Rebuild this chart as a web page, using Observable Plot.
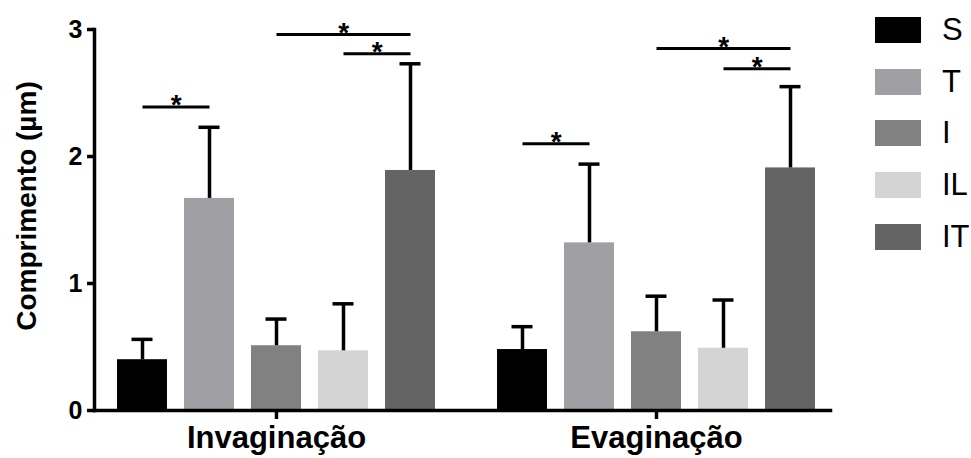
<!DOCTYPE html>
<html>
<head>
<meta charset="utf-8">
<script src="https://cdn.jsdelivr.net/npm/d3@7"></script>
<script src="https://cdn.jsdelivr.net/npm/@observablehq/plot@0.6"></script>
<style>
  body { margin: 0; background: #fff; }
  #chart { position: relative; width: 971px; height: 458px; font-family: "Liberation Sans", Arial, sans-serif; }
  #legend { position: absolute; left: 875px; top: 17px; }
  .item { display: flex; align-items: center; height: 26px; margin-bottom: 25.7px; }
  .swatch { width: 46px; height: 26px; margin-right: 21px; flex: none; }
  .item span { font-size: 31px; line-height: 26px; color: #000; }
  svg g[aria-label="y-axis tick label"] text { font-size: 25px !important; font-weight: bold !important; }
</style>
</head>
<body>
<div id="chart"><div id="legend"></div></div>
<script>
// Groups, series and colours
const groups = ["Invaginação", "Evaginação"];
const series = ["S", "T", "I", "IL", "IT"];
const colors = ["#000000", "#a0a0a4", "#818181", "#d4d4d4", "#646464"];

// Mean length (µm) and SD per series, one list per group
const invagMean = [0.40, 1.67, 0.51, 0.47, 1.89];
const invagSD   = [0.16, 0.56, 0.21, 0.37, 0.84];
const evagMean  = [0.48, 1.32, 0.62, 0.49, 1.91];
const evagSD    = [0.18, 0.62, 0.28, 0.38, 0.64];

const yTicks = [0, 1, 2, 3];
const yTitle = "Comprimento (µm)";

// Significant comparisons: group, bar pair, bracket height, mark
const sigGroup = ["Invaginação", "Invaginação", "Invaginação", "Evaginação", "Evaginação", "Evaginação"];
const sigFrom  = ["S", "I", "IL", "S", "I", "IL"];
const sigTo    = ["T", "IT", "IT", "T", "IT", "IT"];
const sigLevel = [2.39, 2.96, 2.81, 2.10, 2.85, 2.69];
const sigLabel = ["*", "*", "*", "*", "*", "*"];

const rows = [];
[[groups[0], invagMean, invagSD], [groups[1], evagMean, evagSD]].forEach(([g, m, sd]) => {
  series.forEach((s, i) => rows.push({group: g, series: s, mean: m[i], top: m[i] + sd[i]}));
});
const sig = sigGroup.map((g, i) => ({
  group: g, from: sigFrom[i], to: sigTo[i], level: sigLevel[i], label: sigLabel[i],
  span: series.indexOf(sigTo[i]) - series.indexOf(sigFrom[i])
}));

// Layout of the facet bands and of the bars inside them
const width = 971, height = 458;
const marginLeft = 94, marginRight = 133;
const fxGap = 16;
const fxStep = (width - marginLeft - marginRight + fxGap) / groups.length;
const facetWidth = fxStep - fxGap;
const xPadInner = 0.254, xPadOuter = 0.336;
const xStep = facetWidth / (series.length - xPadInner + 2 * xPadOuter);

const font = '"Liberation Sans", Arial, sans-serif';

const starMarks = [1, 2].map(span => Plot.text(sig.filter(d => d.span === span), {
  fx: "group", x: "from", y: "level", text: "label",
  dx: span * xStep / 2, dy: 7.5, lineAnchor: "bottom",
  fontSize: 28, fontWeight: "bold", fill: "#000"
}));

const chart = Plot.plot({
  width, height,
  marginTop: 29, marginBottom: 48, marginLeft, marginRight,
  style: {fontFamily: font, color: "#000", background: "transparent", overflow: "visible"},
  fx: {domain: groups, paddingInner: fxGap / fxStep, paddingOuter: 0, label: null},
  x: {domain: series, paddingInner: xPadInner, paddingOuter: xPadOuter, axis: null},
  y: {domain: [0, 3]},
  color: {domain: series, range: colors},
  marks: [
    Plot.barY(rows, {fx: "group", x: "series", y: "mean", fill: "series"}),
    Plot.ruleX(rows, {fx: "group", x: "series", y1: "mean", y2: "top", stroke: "#000", strokeWidth: 3.5}),
    Plot.tickY(rows, {fx: "group", x: "series", y: "top", stroke: "#000", strokeWidth: 3.5, insetLeft: 14.5, insetRight: 14.5}),
    Plot.link(sig, {fx: "group", x1: "from", x2: "to", y1: "level", y2: "level", stroke: "#000", strokeWidth: 3}),
    ...starMarks,
    // axis lines spanning the whole plot, across both groups
    Plot.frame({anchor: "bottom", facet: "super", stroke: "#000", strokeWidth: 3.5, insetRight: 8}),
    Plot.frame({anchor: "left", facet: "super", stroke: "#000", strokeWidth: 3.5, strokeLinecap: "square"}),
    // y-axis title, drawn once beside the left axis
    Plot.text([yTitle], {
      text: d => d, facet: "super", frameAnchor: "left", rotate: -90,
      dx: -67, dy: -14, lineAnchor: "middle", textAnchor: "middle",
      fontSize: 28, fontWeight: "bold", fill: "#000"
    }),
    Plot.axisY({
      ticks: yTicks, tickSize: 7, tickPadding: 5, strokeWidth: 3.5,
      fontSize: 25, fontWeight: "bold", tickFormat: d3.format("d"), label: null
    }),
    Plot.axisFx({
      anchor: "bottom", tickSize: 9, tickPadding: 6, strokeWidth: 3.5,
      fontSize: 31, fontWeight: "bold", label: null
    })
  ]
});
document.getElementById("chart").prepend(chart);

// Legend to the right of the bars
const legend = document.getElementById("legend");
series.forEach((s, i) => {
  const item = document.createElement("div");
  item.className = "item";
  const sw = document.createElement("div");
  sw.className = "swatch";
  sw.style.background = colors[i];
  const label = document.createElement("span");
  label.textContent = s;
  item.append(sw, label);
  legend.append(item);
});
</script>
</body>
</html>
